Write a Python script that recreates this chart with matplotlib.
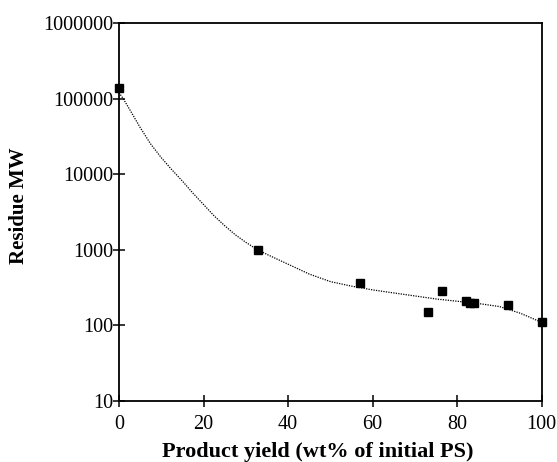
import numpy as np
import matplotlib.pyplot as plt
from matplotlib.ticker import FixedLocator, FixedFormatter, NullLocator

# measured residues
yield_pct = [0, 33, 57, 73, 76.5, 82, 83, 84, 92, 100]
residue_mw = [139000, 990, 360, 150, 288, 211, 198, 200, 188, 110]

# smoothed trend through the data (log10 of MW)
trend_x = [0, 1, 2.5, 5, 7.5, 10, 12.5, 15, 17.5, 20, 22.5, 25, 27.5, 30,
           32.5, 35, 40, 45, 50, 55, 60, 65, 70, 75, 80, 85, 90, 95, 100]
trend_log = [5.08, 5.0, 4.86, 4.62, 4.40, 4.22, 4.06, 3.91, 3.75, 3.60,
             3.45, 3.32, 3.20, 3.10, 3.01, 2.94, 2.81, 2.68, 2.58, 2.52,
             2.47, 2.43, 2.39, 2.35, 2.32, 2.29, 2.25, 2.16, 2.04]

x_ticks = [0, 20, 40, 60, 80, 100]
y_ticks = [10, 100, 1000, 10000, 100000, 1000000]
y_labels = ["10", "100", "1000", "10000", "100000", "1000000"]


def main() -> None:
    plt.rcParams["font.family"] = "Liberation Serif"
    fig = plt.figure(figsize=(5.57, 4.62), dpi=100)
    ax = fig.add_axes([0.2136, 0.132, 0.759, 0.818])

    ax.plot(trend_x, 10 ** np.array(trend_log), color="black", lw=0.9,
            linestyle=(0, (1, 1)))
    ax.plot(yield_pct, residue_mw, "s", color="black", ms=6, clip_on=False,
            zorder=5)

    ax.set_yscale("log")
    ax.set_xlim(0, 100)
    ax.set_ylim(10, 1000000)
    ax.xaxis.set_major_locator(FixedLocator(x_ticks))
    ax.yaxis.set_major_locator(FixedLocator(y_ticks))
    ax.yaxis.set_major_formatter(FixedFormatter(y_labels))
    ax.yaxis.set_minor_locator(NullLocator())

    ax.tick_params(direction="inout", length=8, width=1.1, labelsize=14.5)
    ax.tick_params(axis="x", pad=6)
    ax.tick_params(axis="y", pad=0)
    for sp in ax.spines.values():
        sp.set_linewidth(1.3)

    ax.set_xlabel("Product yield (wt% of initial PS)", fontsize=16,
                  fontweight="bold")
    ax.xaxis.set_label_coords(0.469, -0.108)
    ax.set_ylabel("Residue MW", fontsize=15, fontweight="bold")
    ax.yaxis.set_label_coords(-0.213, 0.518)

    fig.savefig("out.png", dpi=100)


if __name__ == "__main__":
    main()
